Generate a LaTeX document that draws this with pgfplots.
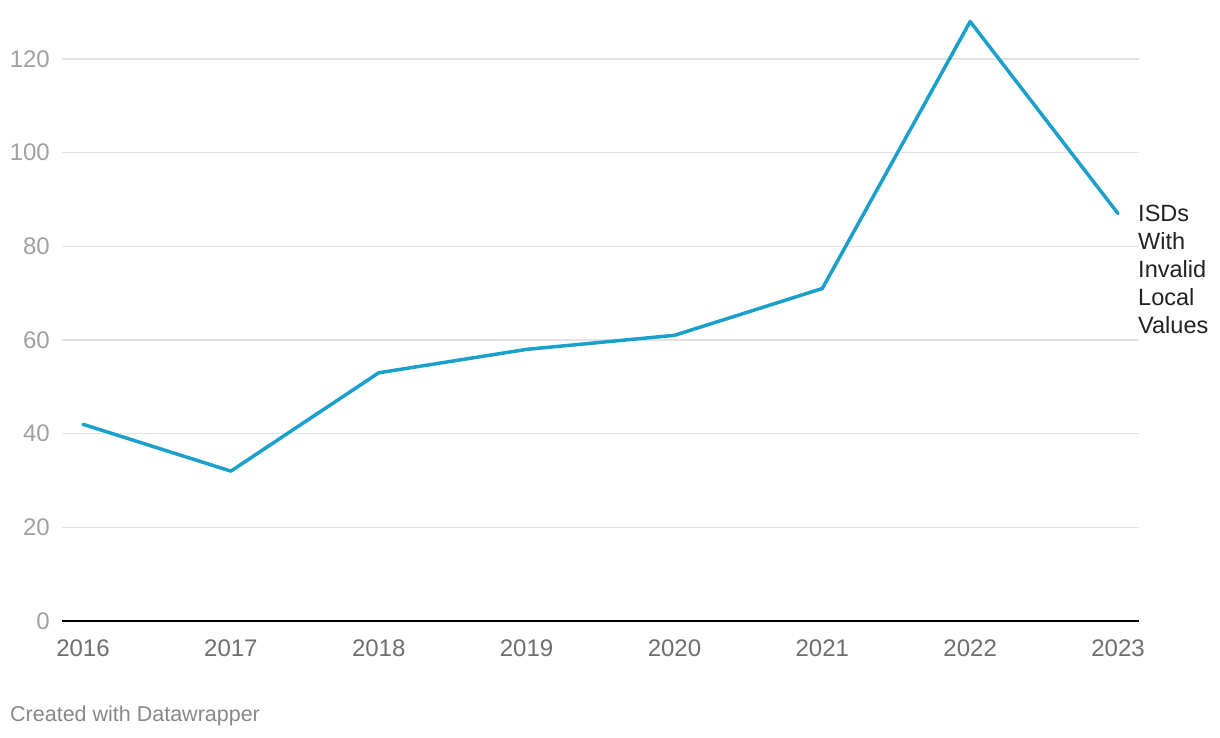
\documentclass[border=0pt]{standalone}
\usepackage{fontspec}
\setmainfont{Liberation Sans}
\usepackage{pgfplots}
\pgfplotsset{compat=1.18}
\definecolor{lineblue}{HTML}{1BA0CC}
\definecolor{gridgray}{HTML}{E3E3E3}
\definecolor{ytickgray}{HTML}{A0A0A0}
\definecolor{xtickgray}{HTML}{6E6E6E}
\definecolor{footgray}{HTML}{888888}
\definecolor{labeltext}{HTML}{222222}
\begin{document}
\begin{tikzpicture}[x=1pt,y=1pt]
\path[use as bounding box] (0,0) rectangle (1220,738);
\begin{axis}[
  at={(62pt,117pt)}, anchor=south west,
  scale only axis, width=1077pt, height=608.8pt,
  xmin=2015.858, xmax=2023.142, ymin=0, ymax=130,
  axis x line*=bottom, axis y line*=left,
  x axis line style={-, black, line width=2pt},
  y axis line style={draw=none},
  major tick length=0pt,
  xtick={2016,2017,2018,2019,2020,2021,2022,2023},
  xticklabels={2016,2017,2018,2019,2020,2021,2022,2023},
  ytick={0,20,40,60,80,100,120},
  yticklabels={0,20,40,60,80,100,120},
  ymajorgrids, grid style={color=gridgray, line width=1.3pt},
  xticklabel style={font=\fontsize{24}{28}\selectfont, text=xtickgray, inner sep=0pt, anchor=north, yshift=-18.5pt},
  yticklabel style={font=\fontsize{24}{28}\selectfont, text=ytickgray, inner sep=0pt, anchor=east, xshift=-12pt},
  clip=false,
]
\addplot[color=lineblue, line width=3.5pt, line join=round, line cap=round] coordinates {
  (2016,42) (2017,32) (2018,53) (2019,58) (2020,61) (2021,71) (2022,128) (2023,87)
};
\node[anchor=north west, inner sep=0pt, align=left, text=labeltext,
  font=\fontsize{23.5}{28}\selectfont, xshift=20pt, yshift=8.5pt]
  at (axis cs:2023,87) {ISDs\\With\\Invalid\\Local\\Values};
\end{axis}
\node[anchor=base west, inner sep=0pt, text=footgray, font=\fontsize{21.5}{26}\selectfont] at (10,16) {Created with Datawrapper};
\end{tikzpicture}
\end{document}
